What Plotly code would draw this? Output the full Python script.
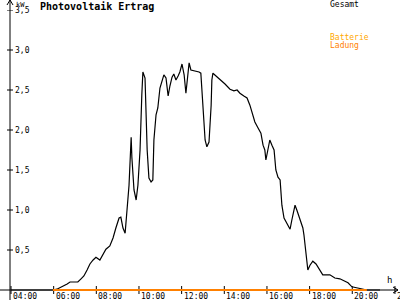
import plotly.graph_objects as go

# ---------------- data ----------------
gesamt_times = ["04:00", "05:58", "06:09", "06:23", "06:38", "06:46", "07:08", "07:17", "07:25", "07:34",
                "07:42", "07:51", "07:59", "08:10", "08:19", "08:27", "08:38", "08:47", "08:55", "09:04",
                "09:09", "09:15", "09:21", "09:26", "09:32", "09:38", "09:40", "09:46", "09:52", "09:57",
                "10:03", "10:08", "10:11", "10:17", "10:23", "10:28", "10:34", "10:39", "10:42", "10:48",
                "10:53", "10:59", "11:05", "11:10", "11:16", "11:22", "11:27", "11:33", "11:38", "11:44",
                "11:50", "11:55", "12:01", "12:07", "12:12", "12:18", "12:21", "12:26", "12:38", "12:49",
                "12:54", "13:00", "13:06", "13:11", "13:17", "13:23", "13:25", "13:28", "13:37", "13:48",
                "14:02", "14:16", "14:27", "14:36", "14:44", "14:55", "15:04", "15:12", "15:18", "15:26",
                "15:35", "15:43", "15:49", "15:54", "15:57", "16:03", "16:08", "16:14", "16:20", "16:25",
                "16:31", "16:37", "16:42", "16:48", "16:56", "17:05", "17:10", "17:19", "17:24", "17:33",
                "17:41", "17:44", "17:50", "17:55", "18:01", "18:09", "18:18", "18:29", "18:37", "18:57",
                "19:11", "19:25", "19:39", "19:48", "19:59", "20:16", "20:36", "20:41", "21:18"]
gesamt_kw = [0.00, 0.00, 0.01, 0.04, 0.075, 0.10, 0.10, 0.14, 0.175, 0.25,
             0.325, 0.375, 0.41, 0.375, 0.45, 0.51, 0.55, 0.65, 0.775, 0.90,
             0.91, 0.775, 0.71, 0.95, 1.31, 1.91, 1.66, 1.25, 1.125, 1.31,
             1.75, 2.44, 2.725, 2.65, 1.75, 1.40, 1.35, 1.375, 1.875, 2.19,
             2.275, 2.525, 2.625, 2.69, 2.65, 2.425, 2.55, 2.66, 2.70, 2.625,
             2.675, 2.725, 2.825, 2.69, 2.46, 2.75, 2.84, 2.75, 2.74, 2.725,
             2.71, 2.25, 1.875, 1.79, 1.85, 2.31, 2.625, 2.71, 2.675, 2.625,
             2.575, 2.51, 2.49, 2.50, 2.46, 2.425, 2.40, 2.31, 2.225, 2.10,
             2.025, 1.96, 1.81, 1.75, 1.625, 1.775, 1.875, 1.81, 1.75, 1.50,
             1.41, 1.375, 1.06, 0.90, 0.825, 0.76, 0.875, 1.06, 1.00, 0.875,
             0.775, 0.69, 0.40, 0.25, 0.31, 0.36, 0.325, 0.25, 0.19, 0.19,
             0.15, 0.14, 0.11, 0.09, 0.04, 0.025, 0.01, 0.00, 0.00]

ladung_times = ["05:58", "20:41"]
ladung_kw = [0.0, 0.0]

y_tick_vals = [0.5, 1.0, 1.5, 2.0, 2.5, 3.0, 3.5]
y_tick_text = ["0,5", "1,0", "1,5", "2,0", "2,5", "3,0", "3,5"]
x_tick_vals = [4, 6, 8, 10, 12, 14, 16, 18, 20, 22]
x_tick_text = ["04:00", "06:00", "08:00", "10:00", "12:00", "14:00", "16:00", "18:00", "20:00", "22:00"]

title_text = "Photovoltaik Ertrag"
legend_gesamt = "Gesamt"
legend_batterie = "Batterie"
legend_ladung = "Ladung"


def to_h(t):
    h, m = t.split(":")
    return int(h) + int(m) / 60.0


gx = [to_h(t) for t in gesamt_times]
lx = [to_h(t) for t in ladung_times]

# ---------------- layout geometry ----------------
W, H = 400, 300
px_per_kw = 80.0
px_per_h = 21.33
ML, MR, MT, MB = 10, 2, 10, 7
PW = W - ML - MR
PH = H - MT - MB
y_lo = -3 / px_per_kw          # zero sits 3 px above the bottom of the plot area (pixel 290)
y_hi = 3.5
x0 = 4 - 1 / px_per_h
x1 = x0 + PW / px_per_h
ZY = 3 / PH                    # paper y of the zero line


def py(pxoff):
    """paper-y offset from the zero line, in pixels (positive = up)"""
    return ZY + pxoff / PH


MONO = "DejaVu Sans Mono, Liberation Mono, monospace"
BLACK = "#000000"

fig = go.Figure()
fig.add_trace(go.Scatter(x=gx, y=gesamt_kw, mode="lines",
                         line=dict(color=BLACK, width=1.2), name=legend_gesamt,
                         hoverinfo="skip"))
fig.add_trace(go.Scatter(x=lx, y=ladung_kw, mode="lines",
                         line=dict(color="#FF8000", width=2), name=legend_ladung,
                         hoverinfo="skip"))

shapes = []
# axes lines
shapes.append(dict(type="line", xref="paper", yref="paper", layer="below",
                   x0=0, x1=0, y0=-MB / PH, y1=1 + MT / PH,
                   line=dict(color=BLACK, width=1)))
shapes.append(dict(type="line", xref="paper", yref="paper", layer="below",
                   x0=-ML / PW, x1=1, y0=ZY, y1=ZY,
                   line=dict(color=BLACK, width=1)))
# arrowheads
shapes.append(dict(type="path", xref="paper", yref="paper",
                   path=f"M {-3/PW} {1 + 5/PH} L 0 {1 + MT/PH} L {3/PW} {1 + 5/PH}",
                   line=dict(color=BLACK, width=1)))
shapes.append(dict(type="path", xref="paper", yref="paper",
                   path=f"M {1 - 5/PW} {py(3)} L 1 {ZY} L {1 - 5/PW} {py(-3)}",
                   line=dict(color=BLACK, width=1)))
# ticks
for v in y_tick_vals:
    shapes.append(dict(type="line", xref="paper", yref="y",
                       x0=-3 / PW, x1=3 / PW, y0=v, y1=v,
                       line=dict(color=BLACK, width=1)))
for v in x_tick_vals:
    shapes.append(dict(type="line", xref="x", yref="paper", layer="below",
                       x0=v, x1=v, y0=py(-4), y1=py(4),
                       line=dict(color=BLACK, width=1)))

annotations = []
for v, t in zip(y_tick_vals, y_tick_text):
    annotations.append(dict(x=3 / PW, y=v, xref="paper", yref="y", text=t,
                            showarrow=False, xanchor="left", yanchor="middle",
                            font=dict(family=MONO, size=8, color=BLACK)))
for v, t in zip(x_tick_vals, x_tick_text):
    annotations.append(dict(x=v, y=py(0), xref="x", yref="paper", text=t,
                            showarrow=False, xanchor="left", yanchor="top",
                            font=dict(family=MONO, size=8, color=BLACK)))

annotations += [
    dict(x=4 / PW, y=1 + 11 / PH, xref="paper", yref="paper", text="kW",
         showarrow=False, xanchor="left", yanchor="top",
         font=dict(family=MONO, size=7, color=BLACK)),
    dict(x=x1 - 13 / px_per_h, y=py(3), xref="x", yref="paper", text="h",
         showarrow=False, xanchor="left", yanchor="bottom",
         font=dict(family=MONO, size=9, color=BLACK)),
    dict(x=28 / PW, y=1 + 11 / PH, xref="paper", yref="paper", text=f"<b>{title_text}</b>",
         showarrow=False, xanchor="left", yanchor="top",
         font=dict(family=MONO, size=10, color=BLACK)),
    dict(x=(328 - ML) / PW, y=1 + 12 / PH, xref="paper", yref="paper", text=legend_gesamt,
         showarrow=False, xanchor="left", yanchor="top",
         font=dict(family=MONO, size=8, color=BLACK)),
    dict(x=(328 - ML) / PW, y=1 - 21 / PH, xref="paper", yref="paper", text=legend_batterie,
         showarrow=False, xanchor="left", yanchor="top",
         font=dict(family=MONO, size=8, color="#FFA800")),
    dict(x=(328 - ML) / PW, y=1 - 29 / PH, xref="paper", yref="paper", text=legend_ladung,
         showarrow=False, xanchor="left", yanchor="top",
         font=dict(family=MONO, size=8, color="#FF8000")),
]

fig.update_layout(
    width=W, height=H,
    margin=dict(l=ML, r=MR, t=MT, b=MB, pad=0),
    paper_bgcolor="white", plot_bgcolor="white",
    showlegend=False,
    xaxis=dict(range=[x0, x1], showgrid=False, zeroline=False, showline=False,
               showticklabels=False, ticks="", fixedrange=True),
    yaxis=dict(range=[y_lo, y_hi], showgrid=False, zeroline=False, showline=False,
               showticklabels=False, ticks="", fixedrange=True),
    shapes=shapes,
    annotations=annotations,
)

fig.write_html("out.html", config={"displayModeBar": False})
